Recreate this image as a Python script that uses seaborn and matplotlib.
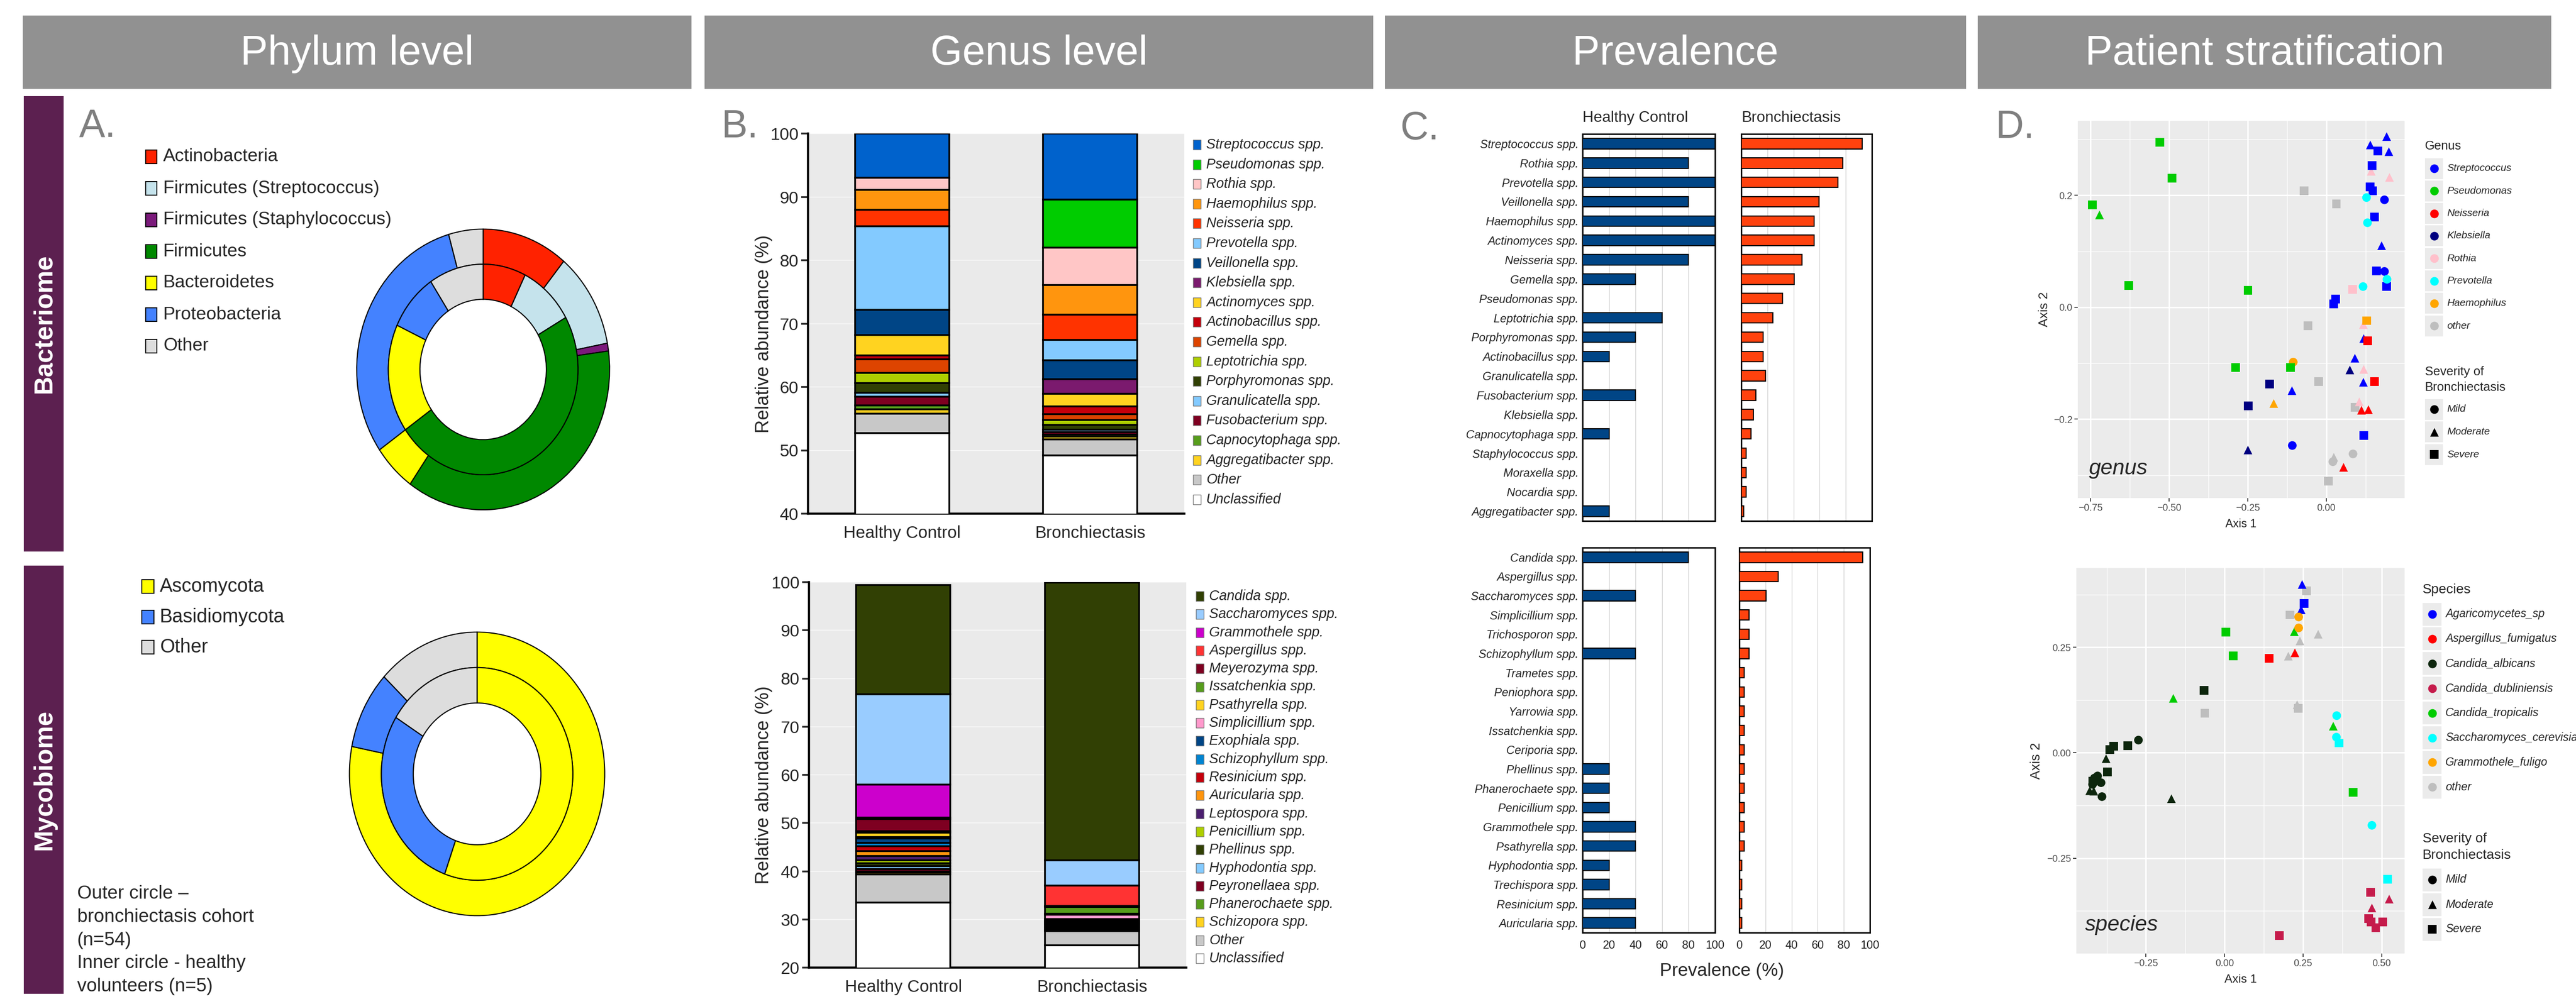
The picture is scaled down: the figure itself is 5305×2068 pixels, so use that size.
import numpy as np
import pandas as pd
import matplotlib
matplotlib.use('Agg')
import matplotlib.pyplot as plt
import seaborn as sns
from matplotlib.patches import Rectangle
from matplotlib import font_manager as fm

W, H, DPI = 5305, 2068, 100

# ------------------------------------------------------------------ data
header_labels = ['Phylum level', 'Genus level', 'Prevalence', 'Patient stratification']

phylum_labels = ['Actinobacteria', 'Firmicutes (Streptococcus)', 'Firmicutes (Staphylococcus)',
                 'Firmicutes', 'Bacteroidetes', 'Proteobacteria', 'Other']
phylum_colors = ['#FF2200', '#C5E3EC', '#7B1A7B', '#008800', '#FFFF00', '#4482FF', '#DDDDDD']
phylum_bronch = [11.0, 11.0, 0.9, 36.9, 5.5, 30.3, 4.4]
phylum_healthy = [7.3, 9.5, 0.0, 48.5, 16.6, 8.8, 9.3]

myco_labels = ['Ascomycota', 'Basidiomycota', 'Other']
myco_colors = ['#FFFF00', '#4482FF', '#DDDDDD']
myco_bronch = [78.1, 8.9, 13.0]
myco_healthy = [55.5, 28.4, 16.1]

groups = ['Healthy Control', 'Bronchiectasis']

bact_genera = ['Streptococcus spp.', 'Pseudomonas spp.', 'Rothia spp.', 'Haemophilus spp.',
               'Neisseria spp.', 'Prevotella spp.', 'Veillonella spp.', 'Klebsiella spp.',
               'Actinomyces spp.', 'Actinobacillus spp.', 'Gemella spp.', 'Leptotrichia spp.',
               'Porphyromonas spp.', 'Granulicatella spp.', 'Fusobacterium spp.',
               'Capnocytophaga spp.', 'Aggregatibacter spp.', 'Other', 'Unclassified']
bact_colors = ['#0062CC', '#00CC00', '#FFC6C6', '#FF950E', '#FF3300', '#83CAFF', '#004586',
               '#7B1A6E', '#FFD320', '#C5000B', '#DD4400', '#AECF00', '#314004', '#83CAFF',
               '#7E0021', '#579D1C', '#FFD320', '#C8C8C8', '#FFFFFF']
bact_healthy = [7.0, 0.0, 1.9, 3.1, 2.6, 13.2, 4.0, 0.0, 3.2, 0.6, 2.2, 1.6, 1.5, 0.6, 1.45,
                0.55, 0.7, 3.05, 52.75]
bact_bronch = [10.4, 7.6, 5.9, 4.7, 4.0, 3.2, 3.0, 2.3, 2.0, 1.2, 0.9, 0.75, 0.8, 0.35, 0.4,
               0.3, 0.45, 2.55, 49.2]

fung_genera = ['Candida spp.', 'Saccharomyces spp.', 'Grammothele spp.', 'Aspergillus spp.',
               'Meyerozyma spp.', 'Issatchenkia spp.', 'Psathyrella spp.', 'Simplicillium spp.',
               'Exophiala spp.', 'Schizophyllum spp.', 'Resinicium spp.', 'Auricularia spp.',
               'Leptospora spp.', 'Penicillium spp.', 'Phellinus spp.', 'Hyphodontia spp.',
               'Peyronellaea spp.', 'Phanerochaete spp.', 'Schizopora spp.', 'Other', 'Unclassified']
fung_colors = ['#314004', '#99CCFF', '#CC00CC', '#FF3333', '#7E0021', '#579D1C', '#FFD320',
               '#FF99CC', '#004586', '#0084D1', '#C5000B', '#FF950E', '#4B1F6F', '#AECF00',
               '#314004', '#83CAFF', '#7E0021', '#579D1C', '#FFD320', '#C8C8C8', '#FFFFFF']
fung_healthy = [22.6, 18.8, 6.8, 0.3, 2.5, 0.3, 0.9, 0.3, 0.95, 0.75, 1.0, 0.95, 0.95, 0.6,
                0.6, 0.6, 0.45, 0.3, 0.4, 5.8, 33.5]
fung_bronch = [57.6, 5.3, 0.0, 4.2, 0.2, 1.4, 0.2, 0.9, 0.3, 0.2, 0.2, 0.2, 0.2, 0.2, 0.3, 0.2,
               0.3, 0.2, 0.2, 3.0, 24.6]

prev_bact_taxa = ['Streptococcus spp.', 'Rothia spp.', 'Prevotella spp.', 'Veillonella spp.',
                  'Haemophilus spp.', 'Actinomyces spp.', 'Neisseria spp.', 'Gemella spp.',
                  'Pseudomonas spp.', 'Leptotrichia spp.', 'Porphyromonas spp.',
                  'Actinobacillus spp.', 'Granulicatella spp.', 'Fusobacterium spp.',
                  'Klebsiella spp.', 'Capnocytophaga spp.', 'Staphylococcus spp.',
                  'Moraxella spp.', 'Nocardia spp.', 'Aggregatibacter spp.']
prev_bact_healthy = [100, 80, 100, 80, 100, 100, 80, 40, 0, 60, 40, 20, 0, 40, 0, 20, 0, 0, 0, 20]
prev_bact_bronch = [92.6, 77.8, 74.1, 59.3, 55.6, 55.6, 46.3, 40.7, 31.5, 24.1, 16.7, 16.7,
                    18.5, 11.1, 9.3, 7.4, 3.7, 3.7, 3.7, 1.9]
prev_fung_taxa = ['Candida spp.', 'Aspergillus spp.', 'Saccharomyces spp.', 'Simplicillium spp.',
                  'Trichosporon spp.', 'Schizophyllum spp.', 'Trametes spp.', 'Peniophora spp.',
                  'Yarrowia spp.', 'Issatchenkia spp.', 'Ceriporia spp.', 'Phellinus spp.',
                  'Phanerochaete spp.', 'Penicillium spp.', 'Grammothele spp.', 'Psathyrella spp.',
                  'Hyphodontia spp.', 'Trechispora spp.', 'Resinicium spp.', 'Auricularia spp.']
prev_fung_healthy = [80, 0, 40, 0, 0, 40, 0, 0, 0, 0, 0, 20, 20, 20, 40, 40, 20, 20, 40, 40]
prev_fung_bronch = [94.4, 29.6, 20.4, 7.4, 7.4, 7.4, 3.7, 3.7, 3.7, 3.7, 3.7, 3.7, 3.7, 3.7,
                    3.7, 3.7, 1.9, 1.9, 1.9, 1.9]
prev_ticks = [0, 20, 40, 60, 80, 100]

severity_levels = ['Mild', 'Moderate', 'Severe']
genus_levels = ['Streptococcus', 'Pseudomonas', 'Neisseria', 'Klebsiella', 'Rothia',
                'Prevotella', 'Haemophilus', 'other']
genus_palette = ['#0000FF', '#00CC00', '#FF0000', '#000080', '#FFC0CB', '#00FFFF', '#FFA500',
                 '#BEBEBE']
genus_x = [-0.070, 0.032, -0.058, -0.024, 0.092, 0.006, 0.024, 0.021, 0.085,
           0.143, 0.201, 0.118, 0.119, 0.105, 0.084,
           0.129, -0.105, -0.167,
           -0.529, -0.491, -0.744, -0.628, -0.249, -0.288, -0.114, -0.721,
           -0.180, -0.248, 0.075, -0.249,
           0.192, 0.140, 0.199, 0.176, 0.119, 0.091, 0.118, -0.109, 0.164, 0.146, 0.140,
           0.148, 0.153, 0.160, 0.192, 0.030, 0.024, 0.119, 0.185, 0.185, -0.108,
           0.128, 0.131, 0.117, 0.193,
           0.132, 0.153, 0.112, 0.134, 0.055]
genus_y = [0.208, 0.185, -0.033, -0.133, -0.179, -0.311, -0.268, -0.276, -0.262,
           0.243, 0.232, -0.031, -0.111, -0.169, 0.032,
           -0.024, -0.098, -0.172,
           0.295, 0.231, 0.183, 0.039, 0.030, -0.108, -0.108, 0.165,
           -0.137, -0.176, -0.112, -0.255,
           0.305, 0.290, 0.278, 0.110, -0.056, -0.091, -0.134, -0.149, 0.279, 0.253, 0.215,
           0.208, 0.161, 0.065, 0.037, 0.015, 0.006, -0.229, 0.192, 0.064, -0.247,
           0.196, 0.151, 0.037, 0.050,
           -0.060, -0.133, -0.184, -0.183, -0.286]
genus_taxon = (['other'] * 9 + ['Rothia'] * 6 + ['Haemophilus'] * 3 + ['Pseudomonas'] * 8 +
               ['Klebsiella'] * 4 + ['Streptococcus'] * 21 + ['Prevotella'] * 4 +
               ['Neisseria'] * 5)
genus_sev = (['Severe'] * 6 + ['Moderate'] + ['Mild'] * 2 +
             ['Moderate'] * 5 + ['Severe'] +
             ['Severe', 'Mild', 'Moderate'] +
             ['Severe'] * 7 + ['Moderate'] +
             ['Severe', 'Severe', 'Moderate', 'Moderate'] +
             ['Moderate'] * 8 + ['Severe'] * 10 + ['Mild'] * 3 +
             ['Mild'] * 4 +
             ['Severe'] * 2 + ['Moderate'] * 3)

species_levels = ['Agaricomycetes_sp', 'Aspergillus_fumigatus', 'Candida_albicans',
                  'Candida_dubliniensis', 'Candida_tropicalis', 'Saccharomyces_cerevisiae',
                  'Grammothele_fuligo', 'other']
species_palette = ['#0000FF', '#FF0000', '#0D260D', '#C51B4B', '#00CC00', '#00FFFF', '#FFA500',
                   '#BEBEBE']
species_x = [0.261, 0.208, -0.063, 0.235, 0.298, 0.240, 0.203, 0.231,
             -0.274, -0.390, -0.393, -0.404, -0.414, -0.420, -0.353, -0.365, -0.308, -0.373,
             -0.419, -0.065, -0.377, -0.429, -0.416, -0.169,
             0.004, 0.028, 0.409, 0.222, -0.163, 0.346,
             0.247, 0.244, 0.253,
             0.236, 0.236,
             0.142, 0.224,
             0.357, 0.356, 0.469, 0.365, 0.519,
             0.465, 0.459, 0.466, 0.481, 0.504, 0.174, 0.469, 0.524]
species_y = [0.384, 0.327, 0.094, 0.105, 0.281, 0.265, 0.229, 0.114,
             0.030, -0.104, -0.071, -0.055, -0.060, -0.075, 0.016, 0.007, 0.017, -0.045,
             -0.067, 0.148, -0.014, -0.090, -0.091, -0.109,
             0.286, 0.230, -0.094, 0.287, 0.129, 0.063,
             0.399, 0.339, 0.354,
             0.322, 0.296,
             0.224, 0.237,
             0.088, 0.037, -0.172, 0.023, -0.300,
             -0.331, -0.393, -0.401, -0.415, -0.401, -0.433, -0.368, -0.347]
species_taxon = (['other'] * 8 + ['Candida_albicans'] * 16 + ['Candida_tropicalis'] * 6 +
                 ['Agaricomycetes_sp'] * 3 + ['Grammothele_fuligo'] * 2 +
                 ['Aspergillus_fumigatus'] * 2 + ['Saccharomyces_cerevisiae'] * 5 +
                 ['Candida_dubliniensis'] * 8)
species_sev = (['Severe'] * 4 + ['Moderate'] * 4 +
               ['Mild'] * 6 + ['Severe'] * 6 + ['Moderate'] * 4 +
               ['Severe'] * 3 + ['Moderate'] * 3 +
               ['Moderate', 'Moderate', 'Severe'] +
               ['Mild'] * 2 +
               ['Severe', 'Moderate'] +
               ['Mild'] * 3 + ['Severe'] * 2 +
               ['Severe'] * 6 + ['Moderate'] * 2)

# ------------------------------------------------------------------ style
sns.set_style('white')
names = {f.name for f in fm.fontManager.ttflist}
HAS_NARROW = 'Liberation Sans Narrow' in names
SANS = ['Liberation Sans', 'DejaVu Sans']
NARROW = (['Liberation Sans Narrow'] if HAS_NARROW else []) + SANS
NS = 1.0 if HAS_NARROW else 0.84
plt.rcParams['font.family'] = SANS

fig = plt.figure(figsize=(W / DPI, H / DPI), dpi=DPI)
fig.patch.set_facecolor('white')


def box(x0, y0, x1, y1):
    return [x0 / W, 1 - y1 / H, (x1 - x0) / W, (y1 - y0) / H]


ov = fig.add_axes([0, 0, 1, 1], zorder=10)
ov.set_xlim(0, W)
ov.set_ylim(H, 0)
ov.axis('off')
ov.patch.set_alpha(0)


def txt(x, y, s, size, narrow=False, **kw):
    fam = NARROW if narrow else SANS
    if narrow:
        size = size * NS
    kw.setdefault('va', 'center')
    ov.text(x, y, s, fontsize=size, family=fam, **kw)


# headers
header_spans = [(47, 1424), (1451, 2828), (2852, 4049), (4073, 5254)]
for lab, (x0, x1) in zip(header_labels, header_spans):
    ov.add_patch(Rectangle((x0, 32), x1 - x0, 151, facecolor='#919191', edgecolor='none'))
    txt((x0 + x1) / 2, 111, lab, 61, color='white', ha='center')

# side bars
ov.add_patch(Rectangle((49, 198), 82, 938, facecolor='#5C2050', edgecolor='none'))
ov.add_patch(Rectangle((49, 1165), 82, 882, facecolor='#5C2050', edgecolor='none'))
txt(91, 667, 'Bacteriome', 38, color='white', fontweight='bold', rotation=90, ha='center')
txt(91, 1606, 'Mycobiome', 38, color='white', fontweight='bold', rotation=90, ha='center')

# panel letters
for lab, x, y in [('A.', 163, 261), ('B.', 1485, 262), ('C.', 2884, 266), ('D.', 4109, 263)]:
    txt(x, y, lab, 58, color='#7F7F7F', ha='left')

# ------------------------------------------------------------------ A: donuts
def donut(rect_px, outer, inner, colors):
    ax = fig.add_axes(box(*rect_px))
    wp = dict(width=0.25, edgecolor='black', linewidth=1.6)
    ax.pie(outer, radius=1.0, colors=colors, startangle=90, counterclock=False, wedgeprops=wp)
    ax.pie(inner, radius=0.75, colors=colors, startangle=90, counterclock=False, wedgeprops=wp)
    ax.set_aspect('auto')
    ax.set_xlim(-1.01, 1.01)
    ax.set_ylim(-1.01, 1.01)
    ax.axis('off')
    return ax


donut((732, 469, 1258, 1053), phylum_bronch, phylum_healthy, phylum_colors)
donut((717, 1299, 1248, 1889), myco_bronch, myco_healthy, myco_colors)

for i, (lab, col) in enumerate(zip(phylum_labels, phylum_colors)):
    yc = 323 + 65 * i
    ov.add_patch(Rectangle((300, yc - 14), 23, 28, facecolor=col, edgecolor='black', lw=1.5))
    txt(336, yc, lab, 32, narrow=True, ha='left')
for i, (lab, col) in enumerate(zip(myco_labels, myco_colors)):
    yc = 1208 + 62.5 * i
    ov.add_patch(Rectangle((292, yc - 14), 25, 28, facecolor=col, edgecolor='black', lw=1.5))
    txt(329, yc, lab, 34, narrow=True, ha='left')

note_lines = ['Outer circle \u2013', 'bronchiectasis cohort', '(n=54)',
              'Inner circle - healthy', 'volunteers (n=5)']
for i, line in enumerate(note_lines):
    txt(159, 1841 + 47.8 * i, line, 33, narrow=True, ha='left')

# ------------------------------------------------------------------ B: stacked bars
def stacked(rect_px, healthy, bronch, colors, ymin, labels, leg_x, leg_y0, leg_dy, ylab_y):
    ax = fig.add_axes(box(*rect_px))
    ax.set_facecolor('#EAEAEA')
    for gi, vals in enumerate([healthy, bronch]):
        bottom = 0.0
        for v, c in zip(vals[::-1], colors[::-1]):
            ax.bar(gi, v, bottom=bottom, width=0.5, color=c, edgecolor='black',
                   linewidth=2.6, zorder=3)
            bottom += v
    ax.set_xlim(-0.5, 1.5)
    ax.set_ylim(ymin, 100)
    yt = list(range(ymin, 101, 10))
    ax.set_yticks(yt)
    ax.set_yticklabels([str(t) for t in yt], family=NARROW, fontsize=30 * NS)
    ax.yaxis.grid(True, color='#F6F6F6', lw=1.5, zorder=0)
    ax.set_axisbelow(True)
    ax.set_xticks([0, 1])
    ax.set_xticklabels(groups, family=NARROW, fontsize=30 * NS)
    ax.set_xticks([-0.5, 0.5, 1.5], minor=True)
    ax.tick_params(axis='x', which='major', length=0, pad=17)
    ax.tick_params(axis='x', which='minor', length=10, width=2.6, direction='out')
    ax.tick_params(axis='y', which='major', length=10, width=2.6, pad=4, direction='out', left=True)
    for s in ['top', 'right']:
        ax.spines[s].set_visible(False)
    for s in ['left', 'bottom']:
        ax.spines[s].set_linewidth(3.2)
        ax.spines[s].set_color('black')
    txt(1573, ylab_y, 'Relative abundance (%)', 27.5, rotation=90, ha='center')
    for i, (lab, col) in enumerate(zip(labels, colors)):
        yc = leg_y0 + leg_dy * i
        ov.add_patch(Rectangle((leg_x, yc - 10), 16, 20, facecolor=col, edgecolor='#777777',
                               lw=1))
        txt(leg_x + 27, yc, lab, 24.5, narrow=True, ha='left', style='italic')
    return ax


stacked((1664, 275, 2439, 1058), bact_healthy, bact_bronch, bact_colors, 40, bact_genera,
        2457, 298, 40.6, 688)
stacked((1666, 1199, 2443, 1993), fung_healthy, fung_bronch, fung_colors, 20, fung_genera,
        2463, 1228, 37.3, 1617)

# ------------------------------------------------------------------ C: prevalence
def prev(rect_px, taxa, vals, color, show_names, show_xlab):
    ax = fig.add_axes(box(*rect_px))
    df = pd.DataFrame({'taxon': taxa, 'prev': vals})
    sns.barplot(data=df, x='prev', y='taxon', orient='h', color=color, saturation=1,
                width=0.54, edgecolor='black', linewidth=1.6, ax=ax, zorder=3)
    n = len(taxa)
    ax.set_xlim(0, 100)
    ax.set_ylim(n - 0.5, -0.5)
    ax.set_xlabel('')
    ax.set_ylabel('')
    ax.set_xticks(prev_ticks)
    ax.set_xticklabels([str(t) for t in prev_ticks], family=NARROW, fontsize=20 * NS)
    ax.xaxis.grid(True, color='#CFCFCF', lw=0.9, zorder=0)
    ax.set_axisbelow(True)
    ax.set_yticks(range(n))
    if show_names:
        ax.set_yticklabels(taxa, family=NARROW, fontsize=20.5 * NS, style='italic')
    else:
        ax.set_yticklabels([])
    ax.set_yticks(np.arange(0.5, n - 1, 1.0), minor=True)
    ax.tick_params(axis='y', which='major', length=0, pad=6)
    ax.tick_params(axis='y', which='minor', length=5, width=1.5, direction='out')
    ax.tick_params(axis='x', which='major', length=6, width=1.5, direction='out',
                   labelbottom=show_xlab, pad=5)
    for s in ax.spines.values():
        s.set_visible(True)
        s.set_linewidth(2.2)
        s.set_color('black')
    return ax


prev((3259, 276, 3532, 1073), prev_bact_taxa, prev_bact_healthy, '#004586', True, False)
prev((3586, 276, 3855, 1073), prev_bact_taxa, prev_bact_bronch, '#FF420E', False, False)
prev((3259, 1128, 3532, 1921), prev_fung_taxa, prev_fung_healthy, '#004586', True, True)
prev((3582, 1128, 3851, 1921), prev_fung_taxa, prev_fung_bronch, '#FF420E', False, True)
txt(3259, 243, 'Healthy Control', 27, narrow=True, ha='left')
txt(3586, 243, 'Bronchiectasis', 27, narrow=True, ha='left')
txt(3546, 2001, 'Prevalence (%)', 32, narrow=True, ha='center')

# ------------------------------------------------------------------ D: PCoA
sev_markers = {'Mild': 'o', 'Moderate': '^', 'Severe': 's'}


def pcoa(rect_px, xs, ys, taxon, sev, levels, palette, xlim, ylim, xt, xtl, yt, ytl,
         xminor, yminor):
    ax = fig.add_axes(box(*rect_px))
    df = pd.DataFrame({'x': xs, 'y': ys, 'taxon': taxon, 'sev': sev})
    sns.scatterplot(data=df, x='x', y='y', hue='taxon', style='sev', hue_order=levels,
                    palette=dict(zip(levels, palette)), style_order=severity_levels,
                    markers=sev_markers, s=165, linewidth=0, legend=False, ax=ax, zorder=3)
    ax.set_facecolor('#EBEBEB')
    ax.set_xlim(*xlim)
    ax.set_ylim(*ylim)
    ax.set_xticks(xt)
    ax.set_xticklabels(xtl, family=NARROW, fontsize=17 * NS, color='#4D4D4D')
    ax.set_yticks(yt)
    ax.set_yticklabels(ytl, family=NARROW, fontsize=17 * NS, color='#4D4D4D')
    ax.set_xticks(xminor, minor=True)
    ax.set_yticks(yminor, minor=True)
    ax.grid(which='major', color='white', lw=2.2)
    ax.grid(which='minor', color='white', lw=1.0)
    ax.set_axisbelow(True)
    ax.tick_params(which='major', length=5, width=1.3, color='#333333', pad=3,
                   bottom=True, left=True)
    ax.tick_params(which='minor', length=0)
    ax.set_xlabel('')
    ax.set_ylabel('')
    for s in ax.spines.values():
        s.set_visible(False)
    return ax


pcoa((4279, 249, 4952, 1026), genus_x, genus_y, genus_taxon, genus_sev, genus_levels,
     genus_palette, (-0.790, 0.249), (-0.341, 0.333),
     [-0.75, -0.5, -0.25, 0.0], ['\u22120.75', '\u22120.50', '\u22120.25', '0.00'],
     [-0.2, 0.0, 0.2], ['\u22120.2', '0.0', '0.2'],
     [-0.625, -0.375, -0.125, 0.125], [-0.3, -0.1, 0.1, 0.3])
pcoa((4276, 1170, 4952, 1964), species_x, species_y, species_taxon, species_sev,
     species_levels, species_palette, (-0.4716, 0.573), (-0.476, 0.438),
     [-0.25, 0.0, 0.25, 0.5], ['\u22120.25', '0.00', '0.25', '0.50'],
     [-0.25, 0.0, 0.25], ['\u22120.25', '0.00', '0.25'],
     [-0.375, -0.125, 0.125, 0.375], [-0.375, -0.125, 0.125, 0.375])

txt(4302, 966, 'genus', 32, ha='left', style='italic')
txt(4294, 1906, 'species', 32, ha='left', style='italic')
txt(4615, 1079, 'Axis 1', 20, narrow=True, ha='center')
txt(4614, 2018, 'Axis 1', 21, narrow=True, ha='center')
txt(4210, 637, 'Axis 2', 19, rotation=90, ha='center')
txt(4194, 1567, 'Axis 2', 20, rotation=90, ha='center')


def dlegend(x0, title, title_y, levels, palette, row_y0, row_dy, kw, kh, sev_title_y,
            sev_y0, sev_dy, fs, tfs):
    txt(x0, title_y, title, tfs, narrow=True, ha='left')
    for i, (lab, col) in enumerate(zip(levels, palette)):
        yc = row_y0 + row_dy * i
        ov.add_patch(Rectangle((x0, yc - kh / 2), kw, kh, facecolor='#EBEBEB', edgecolor='none'))
        ov.scatter([x0 + kw / 2], [yc], s=165, marker='o', color=col, linewidths=0, zorder=5)
        txt(x0 + kw + 8, yc, lab, fs, narrow=True, ha='left', style='italic')
    txt(x0, sev_title_y[0], 'Severity of', tfs, narrow=True, ha='left')
    txt(x0, sev_title_y[1], 'Bronchiectasis', tfs, narrow=True, ha='left')
    for i, lev in enumerate(severity_levels):
        yc = sev_y0 + sev_dy * i
        ov.add_patch(Rectangle((x0, yc - kh / 2), kw, kh, facecolor='#EBEBEB', edgecolor='none'))
        ov.scatter([x0 + kw / 2], [yc], s=165, marker=sev_markers[lev], color='black',
                   linewidths=0, zorder=5)
        txt(x0 + kw + 8, yc, lev, fs, narrow=True, ha='left', style='italic')


dlegend(4994, 'Genus', 301, genus_levels, genus_palette, 347, 46.3, 37, 43, (766, 798),
        843, 46.5, 18, 22)
dlegend(4989, 'Species', 1215, species_levels, species_palette, 1265, 50.9, 39, 47,
        (1728, 1762), 1812, 51, 20, 24)

fig.savefig('out.png', dpi=DPI)
